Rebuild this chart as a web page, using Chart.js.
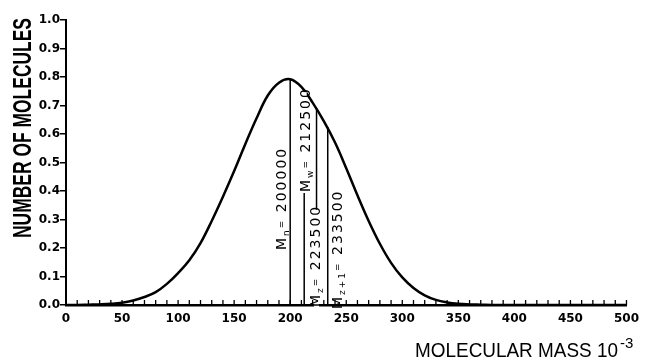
<!DOCTYPE html>
<html>
<head>
<meta charset="utf-8">
<script src="https://cdn.jsdelivr.net/npm/chart.js@4.4.1/dist/chart.umd.min.js"></script>
<style>
  html, body { margin: 0; background: #fff; }
  #wrap { width: 646px; height: 359px; position: relative; }
</style>
</head>
<body>
<div id="wrap"><canvas id="molChart"></canvas></div>
<script>
// molecular mass (x 10^-3) and number of molecules
const masses = [0, 10, 20, 30, 40, 50, 60, 70, 80, 90,
  100, 110, 120, 130, 140, 150, 160, 170, 180, 190,
  200, 210, 220, 230, 240, 250, 260, 270, 280, 290,
  300, 310, 320, 330, 340, 350, 360, 370, 380, 390,
  400, 410, 420, 430, 440, 450, 460, 470, 480, 490, 500];
const counts = [0, 0, 0.001, 0.002, 0.004, 0.008, 0.016, 0.028, 0.045, 0.074,
  0.112, 0.157, 0.217, 0.295, 0.38, 0.47, 0.565, 0.655, 0.735, 0.78,
  0.792, 0.765, 0.71, 0.645, 0.57, 0.48, 0.385, 0.295, 0.215, 0.148,
  0.097, 0.06, 0.034, 0.018, 0.009, 0.004, 0.002, 0.001, 0, 0,
  0, 0, 0, 0, 0, 0, 0, 0, 0, 0, 0];

// averages: subscript, value, height of its line (where it meets the curve)
const avgSubs = ['n', 'w', 'z', 'z+1'];
const avgValues = [200000, 212500, 223500, 233500];
const avgTops = [0.792, 0.755, 0.69, 0.625];

const xTitle = 'MOLECULAR MASS 10';
const xTitleExp = '-3';
const yTitle = 'NUMBER OF MOLECULES';

// label placement: baseline offset from line (px), start above axis (px), hide line under text
const avgPlace = [
  { dx: -4, up: 55, mask: false },
  { dx: 6, up: 113, mask: true },
  { dx: 3, up: -2, mask: true },
  { dx: 14, up: -4, mask: false }
];

const curve = masses.map((m, i) => ({ x: m, y: counts[i] }));

const datasets = [{
  data: curve,
  borderColor: '#000',
  borderWidth: 2.5,
  pointRadius: 0,
  tension: 0.4,
  fill: false
}];
avgValues.forEach((v, i) => {
  datasets.push({
    data: [{ x: v / 1000, y: 0 }, { x: v / 1000, y: avgTops[i] }],
    borderColor: '#000',
    borderWidth: 1.5,
    pointRadius: 0,
    tension: 0
  });
});

function fitText(ctx, text, x, y, width) {
  const w = ctx.measureText(text).width;
  ctx.save();
  ctx.translate(x, y);
  ctx.scale(width / w, 1);
  ctx.fillText(text, 0, 0);
  ctx.restore();
}

const extras = {
  id: 'extras',
  afterDatasetsDraw(chart) {
    const ctx = chart.ctx;
    const xs = chart.scales.x, ys = chart.scales.y;
    ctx.save();
    // x ticks point up into the plot
    ctx.strokeStyle = '#000';
    ctx.lineWidth = 1.3;
    xs.ticks.forEach(t => {
      const px = xs.getPixelForValue(t.value);
      ctx.beginPath();
      ctx.moveTo(px, ys.bottom);
      ctx.lineTo(px, ys.bottom - 5);
      ctx.stroke();
    });

    // vertical labels for the averages
    ctx.fillStyle = '#000';
    avgValues.forEach((v, i) => {
      const p = avgPlace[i];
      const bx = xs.getPixelForValue(v / 1000) + p.dx;
      const by = ys.bottom - p.up;
      ctx.save();
      ctx.translate(bx, by);
      ctx.rotate(-Math.PI / 2);
      ctx.letterSpacing = '2px';
      ctx.textBaseline = 'alphabetic';
      ctx.textAlign = 'left';
      const parts = [
        { t: 'M', f: '14px "DejaVu Sans"', dy: 0 },
        { t: avgSubs[i], f: '9px "DejaVu Sans"', dy: 3 },
        { t: '=', f: '9px "DejaVu Sans"', dy: -2 },
        { t: ' ' + v, f: '14px "DejaVu Sans"', dy: 0 }
      ];
      let total = 0;
      parts.forEach(pt => { ctx.font = pt.f; pt.w = ctx.measureText(pt.t).width; total += pt.w; });
      if (p.mask) {
        ctx.fillStyle = '#fff';
        ctx.fillRect(-1, -p.dx - 2.5, total - 4, 5);
        ctx.fillStyle = '#000';
      }
      let cx = 0;
      parts.forEach(pt => {
        ctx.font = pt.f;
        ctx.fillText(pt.t, cx, pt.dy);
        cx += pt.w;
      });
      ctx.restore();
    });

    // axis titles
    ctx.font = 'bold 26px "Liberation Sans Narrow", "Liberation Sans", sans-serif';
    ctx.textBaseline = 'alphabetic';
    ctx.save();
    ctx.translate(31, 238);
    ctx.rotate(-Math.PI / 2);
    fitText(ctx, yTitle, 0, 0, 220);
    ctx.restore();

    ctx.font = '21px "Liberation Sans Narrow", "Liberation Sans", sans-serif';
    fitText(ctx, xTitle, 415, 357, 203);
    ctx.font = '15px "Liberation Sans", sans-serif';
    ctx.fillText(xTitleExp, 620, 348);
    ctx.restore();
  }
};

new Chart('molChart', {
  type: 'line',
  data: { datasets },
  options: {
    responsive: true,
    maintainAspectRatio: false,
    animation: false,
    layout: { padding: { top: 20, right: 16, left: 0, bottom: 0 } },
    plugins: { legend: { display: false }, tooltip: { enabled: false } },
    scales: {
      x: {
        type: 'linear', min: 0, max: 500,
        ticks: {
          stepSize: 10, autoSkip: false, maxRotation: 0, padding: 7, color: '#000',
          font: { family: 'DejaVu Sans', size: 12, weight: 'bold' },
          callback: v => (v % 50 === 0 ? String(v) : '')
        },
        grid: { display: false, drawTicks: false },
        border: { display: true, color: '#000', width: 2.5 },
        afterFit: s => { s.height = 54; }
      },
      y: {
        min: 0, max: 1,
        ticks: {
          stepSize: 0.1, padding: 0, color: '#000',
          font: { family: 'DejaVu Sans', size: 12, weight: 'bold' },
          callback: v => v.toFixed(1)
        },
        grid: { display: true, drawOnChartArea: false, drawTicks: true, tickLength: 6, color: '#000', lineWidth: 1.5 },
        border: { display: true, color: '#000', width: 2 },
        afterFit: s => { s.width = 66; }
      }
    }
  },
  plugins: [extras]
});
</script>
</body>
</html>
